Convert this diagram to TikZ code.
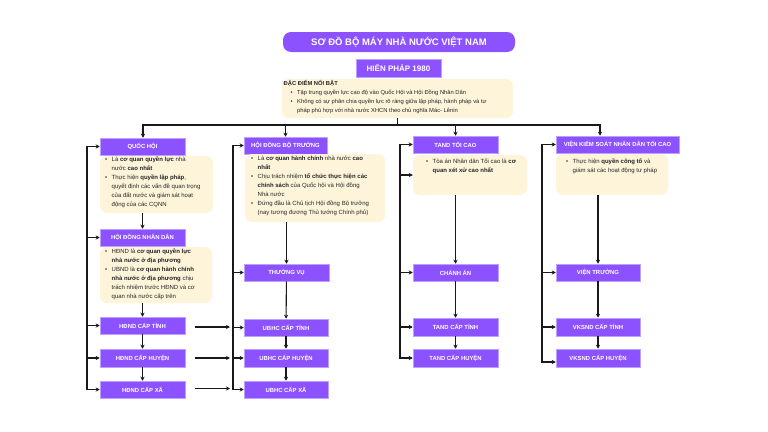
\documentclass[tikz,border=0pt]{standalone}
\usepackage{fontspec}
\setmainfont{Liberation Sans}
\usetikzlibrary{arrows.meta}
\definecolor{pur}{RGB}{140,82,255}
\definecolor{purb}{RGB}{190,160,255}
\definecolor{crm}{RGB}{254,244,218}
\newcommand\bitem[1]{\makebox[6.5pt][l]{•}#1}
\newcommand\bcont[1]{\hspace*{6.5pt}#1}
\begin{document}
\begin{tikzpicture}[x=1pt,y=-1pt,
 box/.style={draw=purb, line width=0.5pt, fill=pur, text=white, font=\fontsize{5.9}{6}\selectfont\bfseries, inner sep=0pt, anchor=center},
 note/.style={fill=crm, rounded corners=7pt, draw=none, inner sep=0pt},
 txt/.style={align=left, inner sep=0pt, font=\fontsize{6}{9}\selectfont, text=black!85, anchor=north west},
 arr/.style={draw=black!90, line width=1.1pt, -{Stealth[length=4pt,width=4pt]}},
 ln/.style={draw=black!90, line width=1.1pt, line cap=rect}]
\fill[white] (0,0) rectangle (768,431);
\useasboundingbox (0,0) rectangle (768,431);

% title
\node[fill=pur, rounded corners=8pt, text=white, font=\fontsize{9.5}{10}\selectfont\bfseries, minimum width=232pt, minimum height=20pt, inner sep=0pt] (title) at (399,42) {SƠ ĐỒ BỘ MÁY NHÀ NƯỚC VIỆT NAM};
\node[box, font=\fontsize{8}{9}\selectfont\bfseries, minimum width=85pt, minimum height=18pt] (hp) at (398.5,68) {HIẾN PHÁP 1980};

% top note
\node[note, minimum width=231pt, minimum height=39pt] (n0) at (397.5,98.5) {};
\node[txt, font=\fontsize{5.8}{9}\selectfont] (t0) at (283.5,80.5) {\textbf{ĐẶC ĐIỂM NỔI BẬT}\\
\hspace*{7pt}\bitem{Tập trung quyền lực cao độ vào Quốc Hội và Hội Đồng Nhân Dân}\\
\hspace*{7pt}\bitem{Không có sự phân chia quyền lực rõ ràng giữa lập pháp, hành pháp và tư}\\
\hspace*{7pt}\bcont{pháp phù hợp với nhà nước XHCN theo chủ nghĩa Mác- Lênin}};

% column heads
\node[box, minimum width=85pt, minimum height=17pt] (qh) at (142.5,146.5) {QUỐC HỘI};
\node[box, minimum width=83pt, minimum height=17pt] (hdbt) at (285.5,145.5) {HỘI ĐỒNG BỘ TRƯỞNG};
\node[box, minimum width=85pt, minimum height=17pt] (tand) at (455.5,144.5) {TAND TỐI CAO};
\node[box, minimum width=123pt, minimum height=17pt] (vks) at (617.5,144.5) {VIỆN KIỂM SOÁT NHÂN DÂN TỐI CAO};

% notes
\node[note, minimum width=113pt, minimum height=57pt] (nqh) at (156.5,184.5) {};
\node[txt] (tqh) at (105,156.5) {\bitem{Là \textbf{cơ quan quyền lực} nhà}\\
\bcont{nước \textbf{cao nhất}}\\
\bitem{Thực hiện \textbf{quyền lập pháp},}\\
\bcont{quyết định các vấn đề quan trọng}\\
\bcont{của đất nước và giám sát hoạt}\\
\bcont{động của các CQNN}};

\node[box, minimum width=85pt, minimum height=17pt] (hdnd) at (142.5,237.5) {HỘI ĐỒNG NHÂN DÂN};
\node[note, minimum width=112pt, minimum height=56pt] (nhd) at (156,275) {};
\node[txt] (thd) at (105,248.5) {\bitem{HĐND là \textbf{cơ quan quyền lực}}\\
\bcont{\textbf{nhà nước ở địa phương}}\\
\bitem{UBND là \textbf{cơ quan hành chính}}\\
\bcont{\textbf{nhà nước ở địa phương} chịu}\\
\bcont{trách nhiệm trước HĐND và cơ}\\
\bcont{quan nhà nước cấp trên}};

\node[note, minimum width=140pt, minimum height=68pt] (nbt) at (315,188) {};
\node[txt] (tbt) at (251,155.5) {\bitem{Là \textbf{cơ quan hành chính} nhà nước \textbf{cao}}\\
\bcont{\textbf{nhất}}\\
\bitem{Chịu trách nhiệm \textbf{tổ chức thực hiện các}}\\
\bcont{\textbf{chính sách} của Quốc hội và Hội đồng}\\
\bcont{Nhà nước}\\
\bitem{Đứng đầu là Chủ tịch Hội đồng Bộ trưởng}\\
\bcont{(nay tương đương Thủ tướng Chính phủ)}};

\node[note, minimum width=114pt, minimum height=40pt] (nta) at (470,175) {};
\node[txt] (tta) at (426,158.5) {\bitem{Tòa án Nhân dân Tối cao là \textbf{cơ}}\\
\bcont{\textbf{quan xét xử cao nhất}}};

\node[note, minimum width=112pt, minimum height=41pt] (nvk) at (612,174.5) {};
\node[txt] (tvk) at (566,158.5) {\bitem{Thực hiện \textbf{quyền công tố} và}\\
\bcont{giám sát các hoạt động tư pháp}};

% middle row
\node[box, minimum width=85pt, minimum height=17pt] (tv) at (286.5,272.5) {THƯỜNG VỤ};
\node[box, minimum width=85pt, minimum height=17pt] (ca) at (455.5,272.5) {CHÁNH ÁN};
\node[box, minimum width=84pt, minimum height=17pt] (vt) at (598,272.5) {VIỆN TRƯỞNG};

% lower rows
\node[box, minimum width=85pt, minimum height=17pt] (hdt) at (142.5,325.5) {HĐND CẤP TỈNH};
\node[box, minimum width=85pt, minimum height=18pt] (hdh) at (142.5,358) {HĐND CẤP HUYỆN};
\node[box, minimum width=85pt, minimum height=17pt] (hdx) at (142.5,389.5) {HĐND CẤP XÃ};
\node[box, minimum width=84pt, minimum height=17pt] (ubt) at (286,327.5) {UBHC CẤP TỈNH};
\node[box, minimum width=84pt, minimum height=18pt] (ubh) at (286,358) {UBHC CẤP HUYỆN};
\node[box, minimum width=84pt, minimum height=17pt] (ubx) at (286,389.5) {UBHC CẤP XÃ};
\node[box, minimum width=85pt, minimum height=18pt] (tat) at (455.5,327) {TAND CẤP TỈNH};
\node[box, minimum width=85pt, minimum height=18pt] (tah) at (455.5,358) {TAND CẤP HUYỆN};
\node[box, minimum width=84pt, minimum height=18pt] (vkt) at (598,327) {VKSND CẤP TỈNH};
\node[box, minimum width=84pt, minimum height=18pt] (vkh) at (598,358) {VKSND CẤP HUYỆN};

% top distribution
\coordinate (jL) at (143,125);
\coordinate (jR) at (600,125);
\draw[ln] (n0.south) -- (n0.south |- jL);
\draw[ln] (jL) -- (jR);
\draw[arr] (jL) -- (jL |- qh.north);
\draw[arr] (hdbt.north |- jL) -- (hdbt.north);
\draw[arr] (tand.north |- jL) -- (tand.north);
\draw[arr] (jR) -- (jR |- vks.north);

% brackets
\coordinate (b1) at (87,146.5);
\draw[ln] (b1) -- (b1 |- hdx.west);
\draw[arr] (b1) -- (qh.west);
\foreach \n in {hdnd,hdt,hdh,hdx} \draw[arr] (b1 |- \n.west) -- (\n.west);

\coordinate (b2) at (233,145.5);
\draw[ln] (b2) -- (b2 |- ubx.west);
\draw[arr] (b2) -- (hdbt.west);
\foreach \n in {tv,ubt,ubh,ubx} \draw[arr] (b2 |- \n.west) -- (\n.west);

\coordinate (b3) at (400,144.5);
\draw[ln] (b3) -- (b3 |- tah.west);
\draw[arr] (b3) -- (tand.west);
\foreach \n in {nta,ca,tat,tah} \draw[arr] (b3 |- \n.west) -- (\n.west);

\coordinate (b4) at (542,144.5);
\draw[ln] (b4) -- (b4 |- 0,362);
\draw[arr] (b4) -- (vks.west);
\foreach \n in {vt,vkt} \draw[arr] (b4 |- \n.west) -- (\n.west);
\draw[arr] (b4 |- 0,362) -- (vkh.west |- 0,362);

% free arrows
\coordinate (f1) at (195,327); \coordinate (g1) at (230,327);
\coordinate (f2) at (195,358); \coordinate (g2) at (230,358);
\coordinate (f3) at (195,388.5); \coordinate (g3) at (230,388.5);
\draw[arr] (f1) -- (g1);
\draw[arr] (f2) -- (g2);
\draw[arr] (f3) -- (g3);

% vertical arrows
\draw[arr] (hdnd.north |- nqh.south) -- (hdnd.north);
\draw[arr] (hdt.north |- nhd.south) -- (hdt.north);
\draw[arr] (hdt) -- (hdh);
\draw[arr] (hdh) -- (hdx);
\draw[arr] (tv.north |- nbt.south) -- (tv.north);
\draw[arr] (tv) -- (ubt);
\draw[arr] (ubt) -- (ubh);
\draw[arr] (ubh) -- (ubx);
\draw[arr] (ca.north |- nta.south) -- (ca.north);
\draw[arr] (ca) -- (tat);
\draw[arr] (tat) -- (tah);
\draw[arr] (vt.north |- nvk.south) -- (vt.north);
\draw[arr] (vt) -- (vkt);
\draw[arr] (vkt) -- (vkh);
\end{tikzpicture}
\end{document}
